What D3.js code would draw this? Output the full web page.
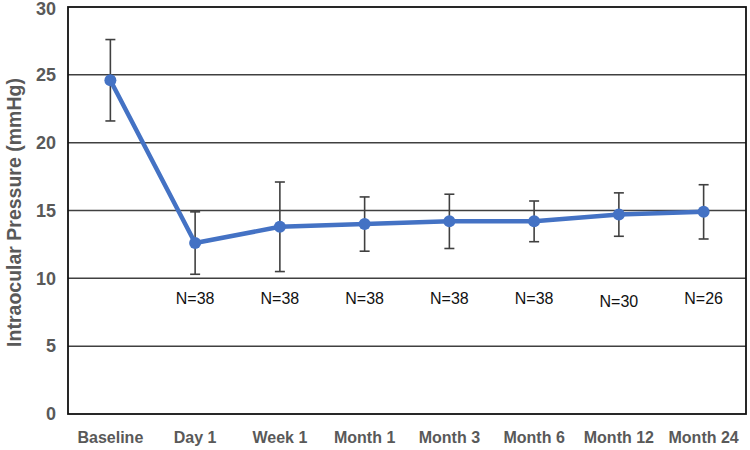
<!DOCTYPE html>
<html><head><meta charset="utf-8">
<script src="https://cdn.jsdelivr.net/npm/d3@7"></script>
<style>body{margin:0;background:#fff}</style>
</head><body>
<svg id="c" width="750" height="450"></svg>
<script>
const categories = ["Baseline","Day 1","Week 1","Month 1","Month 3","Month 6","Month 12","Month 24"];
const means = [24.6, 12.6, 13.8, 14.0, 14.2, 14.2, 14.7, 14.9];
const errUpper = [27.6, 14.9, 17.1, 16.0, 16.2, 15.7, 16.3, 16.9];
const errLower = [21.6, 10.3, 10.5, 12.0, 12.2, 12.7, 13.1, 12.9];
const nLabels = ["", "N=38", "N=38", "N=38", "N=38", "N=38", "N=30", "N=26"];
const yTicks = [0, 5, 10, 15, 20, 25, 30];

const svg = d3.select("#c");
const L = 68, R = 746, T = 7, B = 414;
const x = d3.scaleBand().domain(categories).range([L, R]);
const y = d3.scaleLinear().domain([0, 30]).range([B, T]);
const cx = c => x(c) + x.bandwidth() / 2;
const font = "'Liberation Sans', Arial, sans-serif";

// gridlines
svg.append("g").selectAll("line").data(yTicks.filter(t => t > 0 && t < 30)).join("line")
  .attr("x1", L).attr("x2", R).attr("y1", d => y(d)).attr("y2", d => y(d))
  .attr("stroke", "#404040").attr("stroke-width", 1.5);

// border
svg.append("rect").attr("x", L).attr("y", T).attr("width", R - L).attr("height", B - T)
  .attr("fill", "none").attr("stroke", "#111").attr("stroke-width", 1.8);

// y axis ticks
const yAxis = d3.axisLeft(y).tickValues(yTicks).tickSize(0).tickPadding(12);
const gy = svg.append("g").attr("transform", `translate(${L},0)`).call(yAxis);
gy.select(".domain").remove();
gy.selectAll("text").attr("font-family", font).attr("font-size", 18).attr("font-weight", "bold").attr("fill", "#595959");
gy.selectAll("text").filter(d => d === 30).attr("dy", "0.42em");

// x axis
const xAxis = d3.axisBottom(x).tickSize(0).tickPadding(18);
const gx = svg.append("g").attr("transform", `translate(0,${B})`).call(xAxis);
gx.select(".domain").remove();
gx.selectAll("text").attr("font-family", font).attr("font-size", 16).attr("font-weight", "bold").attr("fill", "#595959");

// axis title
svg.append("text").attr("transform", `translate(21,${(T + B) / 2 + 2}) rotate(-90)`)
  .attr("text-anchor", "middle").attr("font-family", font).attr("font-size", 19.5)
  .attr("font-weight", "bold").attr("fill", "#595959").text("Intraocular Pressure (mmHg)");

// error bars
const eg = svg.append("g").attr("stroke", "#404040").attr("stroke-width", 1.6);
categories.forEach((c, i) => {
  eg.append("line").attr("x1", cx(c)).attr("x2", cx(c)).attr("y1", y(errUpper[i])).attr("y2", y(errLower[i]));
  [errUpper[i], errLower[i]].forEach(v => eg.append("line")
    .attr("x1", cx(c) - 5).attr("x2", cx(c) + 5).attr("y1", y(v)).attr("y2", y(v)));
});

// line
const line = d3.line().x((d, i) => cx(categories[i])).y(d => y(d));
svg.append("path").datum(means).attr("d", line).attr("fill", "none")
  .attr("stroke", "#4472C4").attr("stroke-width", 4.5).attr("stroke-linejoin", "round");
svg.append("g").selectAll("circle").data(means).join("circle")
  .attr("cx", (d, i) => cx(categories[i])).attr("cy", d => y(d)).attr("r", 6).attr("fill", "#4472C4");

// N labels
svg.append("g").selectAll("text").data(nLabels).join("text")
  .attr("x", (d, i) => cx(categories[i])).attr("y", (d, i) => i === 6 ? 307 : 304)
  .attr("text-anchor", "middle").attr("font-family", font).attr("font-size", 16)
  .attr("fill", "#111").text(d => d);
</script>
</body></html>
